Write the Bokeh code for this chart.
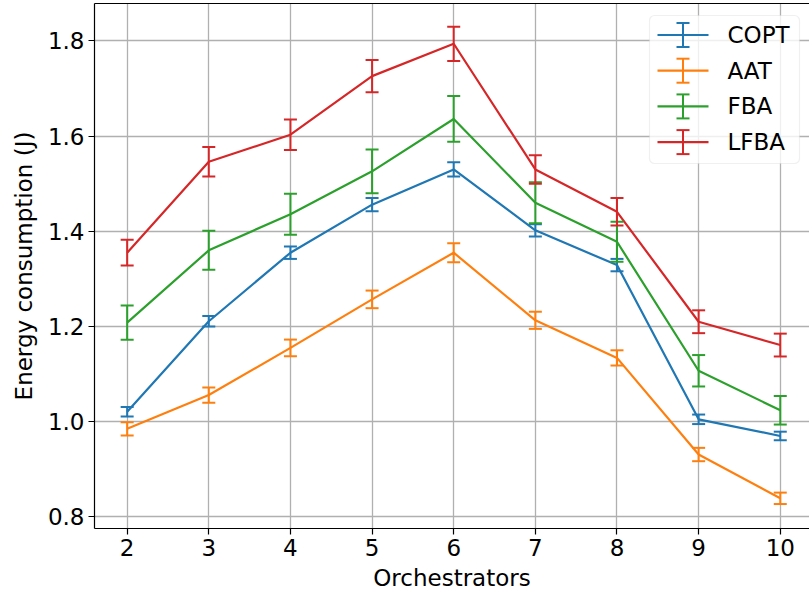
from bokeh.plotting import figure
from bokeh.models import (Range1d, FixedTicker, LinearAxis, Whisker, TeeHead,
                          ColumnDataSource, BoxAnnotation, NumeralTickFormatter)
from bokeh.core.properties import value
from bokeh.embed import file_html
from bokeh.resources import INLINE

# ---------------- data ----------------
orchestrators = [2, 3, 4, 5, 6, 7, 8, 9, 10]
series_names = ["COPT", "AAT", "FBA", "LFBA"]

copt_mean = [1.021, 1.211, 1.355, 1.456, 1.530, 1.402, 1.329, 1.005, 0.970]
copt_err = [0.010, 0.011, 0.013, 0.014, 0.015, 0.013, 0.013, 0.010, 0.009]

aat_mean = [0.985, 1.056, 1.155, 1.257, 1.355, 1.213, 1.134, 0.931, 0.839]
aat_err = [0.014, 0.016, 0.0175, 0.0185, 0.020, 0.018, 0.016, 0.014, 0.012]

fba_mean = [1.208, 1.360, 1.436, 1.526, 1.636, 1.460, 1.378, 1.107, 1.024]
fba_err = [0.036, 0.041, 0.043, 0.046, 0.048, 0.043, 0.042, 0.033, 0.030]

lfba_mean = [1.355, 1.546, 1.603, 1.726, 1.794, 1.530, 1.441, 1.210, 1.161]
lfba_err = [0.027, 0.031, 0.032, 0.034, 0.036, 0.030, 0.029, 0.024, 0.024]

y_ticks = [0.8, 1.0, 1.2, 1.4, 1.6, 1.8]
x_ticks = [2, 3, 4, 5, 6, 7, 8, 9, 10]

colors = ["#1f77b4", "#ff7f0e", "#2ca02c", "#d62728"]
means = [copt_mean, aat_mean, fba_mean, lfba_mean]
errs = [copt_err, aat_err, fba_err, lfba_err]

FONT = "DejaVu Sans"
FS = "23px"

# ---------------- figure ----------------
p = figure(width=809, height=598, output_backend="svg", toolbar_location=None,
           x_range=Range1d(1.6, 10.358), y_range=Range1d(0.7756, 1.8786),
           min_border_left=94, min_border_right=0, min_border_top=3,
           min_border_bottom=70)
p.outline_line_color = None
p.background_fill_color = "white"
p.border_fill_color = "white"

# page-pixel coordinate system for the legend block
p.extra_x_ranges = {"px": Range1d(94, 809)}
p.extra_y_ranges = {"py": Range1d(528, 3)}

for ax in (p.xaxis[0], p.yaxis[0]):
    ax.axis_line_color = "black"
    ax.axis_line_width = 1.2
    ax.major_tick_line_color = "black"
    ax.major_tick_line_width = 1.2
    ax.major_tick_out = 6
    ax.major_tick_in = 0
    ax.minor_tick_line_color = None
    ax.major_label_text_font = FONT
    ax.major_label_text_font_size = FS
    ax.major_label_text_color = "black"
    ax.axis_label_text_font = FONT
    ax.axis_label_text_font_size = FS
    ax.axis_label_text_font_style = "normal"
    ax.axis_label_text_color = "black"

p.xaxis.ticker = FixedTicker(ticks=x_ticks)
p.yaxis.ticker = FixedTicker(ticks=y_ticks)
p.yaxis.formatter = NumeralTickFormatter(format="0.0")
p.xaxis.axis_label = "Orchestrators"
p.yaxis.axis_label = "Energy consumption (J)"
p.xaxis.major_label_standoff = 4
p.xaxis.axis_label_standoff = 6
p.yaxis.major_label_standoff = 4
p.yaxis.axis_label_standoff = 8

top_axis = LinearAxis(ticker=FixedTicker(ticks=[]), major_label_text_font_size="0px",
                      major_tick_out=0, major_tick_in=0, minor_tick_out=0,
                      minor_tick_in=0, major_label_standoff=0,
                      axis_line_color="black", axis_line_width=1.2)
p.add_layout(top_axis, "above")

p.xgrid.ticker = FixedTicker(ticks=x_ticks)
p.ygrid.ticker = FixedTicker(ticks=y_ticks)
for g in (p.xgrid[0], p.ygrid[0]):
    g.grid_line_color = "#b0b0b0"
    g.grid_line_width = 1.3

# ---------------- series ----------------
for name, m, e, c in zip(series_names, means, errs, colors):
    src = ColumnDataSource(dict(
        x=orchestrators, y=m,
        upper=[a + b for a, b in zip(m, e)],
        lower=[a - b for a, b in zip(m, e)]))
    p.line("x", "y", source=src, line_color=c, line_width=2.2)
    w = Whisker(base="x", upper="upper", lower="lower", source=src,
                dimension="height", line_color=c, line_width=2,
                upper_head=TeeHead(size=13, line_color=c, line_width=2),
                lower_head=TeeHead(size=13, line_color=c, line_width=2),
                level="glyph")
    p.add_layout(w)

# ---------------- legend (page-pixel layout) ----------------
LEG_LEFT, LEG_RIGHT, LEG_TOP, LEG_BOTTOM = 649, 799, 15, 163
ROW0, ROW_STEP = 34.5, 35.7
rows = [ROW0 + i * ROW_STEP for i in range(len(series_names))]
n = len(rows)

box = BoxAnnotation(left=LEG_LEFT, right=LEG_RIGHT, top=LEG_TOP, bottom=LEG_BOTTOM,
                    x_range_name="px", y_range_name="py",
                    fill_color="white", fill_alpha=0.8,
                    line_color="#cccccc", line_width=1.2, border_radius=5)
p.add_layout(box)

kw = dict(x_range_name="px", y_range_name="py", level="overlay")
p.segment(x0=[657] * n, x1=[708] * n, y0=rows, y1=rows, line_color=colors,
          line_width=2.2, **kw)
p.segment(x0=[682.5] * n, x1=[682.5] * n, y0=[r - 12 for r in rows],
          y1=[r + 12 for r in rows], line_color=colors, line_width=2, **kw)
p.segment(x0=[676] * n, x1=[689] * n, y0=[r - 12 for r in rows],
          y1=[r - 12 for r in rows], line_color=colors, line_width=2, **kw)
p.segment(x0=[676] * n, x1=[689] * n, y0=[r + 12 for r in rows],
          y1=[r + 12 for r in rows], line_color=colors, line_width=2, **kw)
p.text(x=[727] * n, y=rows, text=series_names, text_font=value(FONT),
       text_font_size=FS, text_baseline="middle", text_align="left",
       text_color="black", **kw)

open("out.html", "w").write(file_html(p, INLINE))
